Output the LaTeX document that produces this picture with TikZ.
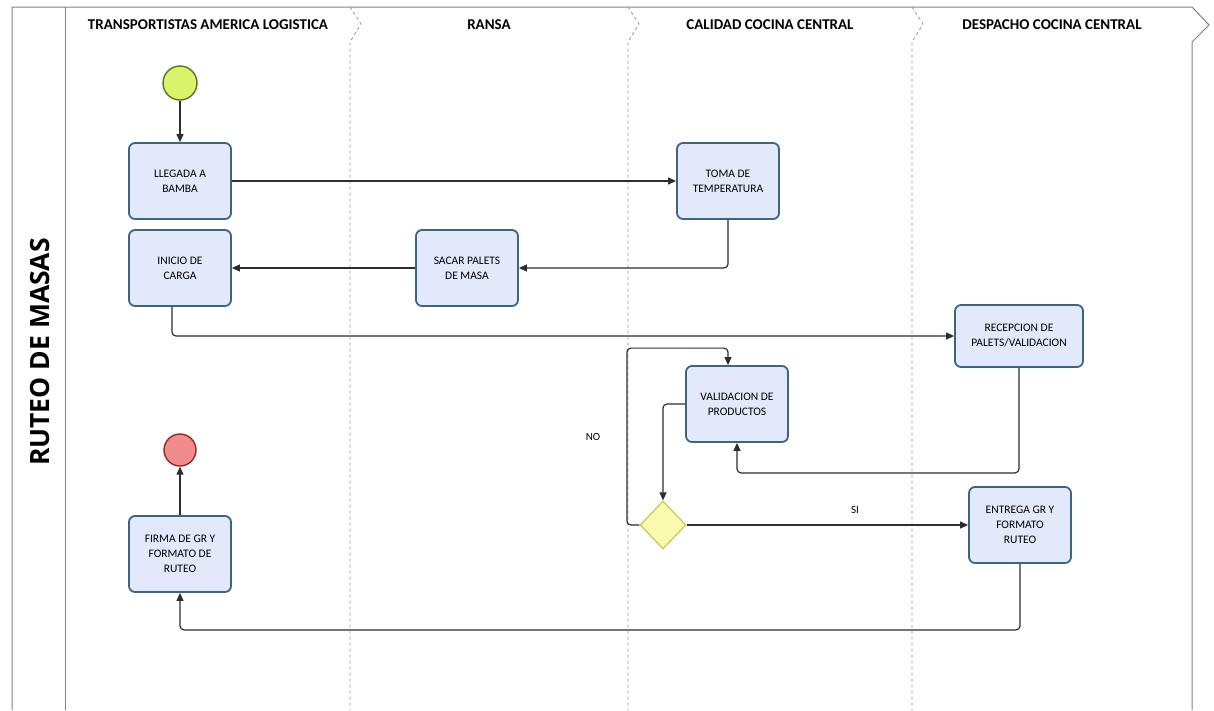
\documentclass[tikz,border=0pt]{standalone}
\usepackage{fontspec}
\setmainfont{Carlito}
\newfontfamily\titlefont{Open Sans}
\usetikzlibrary{arrows.meta, calc, positioning, shapes.geometric}
\definecolor{boxfill}{RGB}{226,233,251}
\definecolor{boxline}{RGB}{62,100,132}
\definecolor{startfill}{RGB}{218,243,104}
\definecolor{startline}{RGB}{84,118,36}
\definecolor{endfill}{RGB}{240,140,140}
\definecolor{endline}{RGB}{150,40,40}
\definecolor{gatefill}{RGB}{251,251,176}
\definecolor{gateline}{RGB}{200,200,80}
\definecolor{flowline}{RGB}{45,45,45}
\definecolor{frameline}{RGB}{130,130,130}
\definecolor{laneline}{RGB}{150,150,150}
\tikzset{
  task/.style={rectangle, rounded corners=6pt, draw=boxline, line width=1.8pt, fill=boxfill,
    minimum width=102pt, minimum height=76pt, align=center, inner sep=2pt,
    font=\fontsize{11.5}{15}\selectfont},
  flow/.style={draw=flowline, line width=1.2pt, rounded corners=4pt,
    -{Triangle[length=8pt,width=7pt]}},
  lanehead/.style={font=\fontsize{15}{17}\selectfont\bfseries},
  lane/.style={draw=laneline, dashed, line width=0.8pt},
  flowlabel/.style={font=\fontsize{11}{13}\selectfont}
}

\begin{document}
\begin{tikzpicture}[x=1pt,y=-1pt]
\useasboundingbox (0,0) rectangle (1214,710);

%----------------------------------------------------------------
% pool and lanes
\draw [frameline, line width=1pt]
(12,710) -- (12,7) -- (1192,7) -- (1209,25) -- (1192,42) -- (1192,710);
\draw [frameline, line width=1pt] (65,7) -- (65,710);
\draw [lane] (350,7) -- (361,24) -- (350,42) -- (350,710);
\draw [lane] (628,7) -- (639,24) -- (628,42) -- (628,710);
\draw [lane] (912,7) -- (923,24) -- (912,42) -- (912,710);

\node(pool) [rotate=90, font=\titlefont\fontsize{26.5}{28}\selectfont\bfseries] at (40,352) {RUTEO DE MASAS};

\node(transport) [lanehead] at (208,25) {TRANSPORTISTAS AMERICA LOGISTICA};
\node(ransa) [lanehead] at (489,25) {RANSA};
\node(calidad) [lanehead] at (770,25) {CALIDAD COCINA CENTRAL};
\node(despacho) [lanehead] at (1052,25) {DESPACHO COCINA CENTRAL};

%----------------------------------------------------------------
% tasks
\node(start) [circle, draw=startline, fill=startfill, line width=1.4pt, minimum size=34pt] at (180,83) {};
\node(llegada) [task] at (180,181) {LLEGADA A\\BAMBA};
\node(carga) [task] at (180,268) {INICIO DE\\CARGA};
\node(sacar) [task] at (467,268) {SACAR PALETS\\DE MASA};
\node(toma) [task] at (728,181) {TOMA DE\\TEMPERATURA};
\node(recepcion) [task, minimum width=128pt, minimum height=62pt] at (1019,336) {RECEPCION DE\\PALETS/VALIDACION};
\node(validacion) [task] at (737,404) {VALIDACION DE\\PRODUCTOS};
\node(gateway) [diamond, draw=gateline, fill=gatefill, line width=1.2pt, minimum width=46pt, minimum height=48pt, inner sep=0pt] at (663,525) {};
\node(entrega) [task] at (1020,525) {ENTREGA GR Y\\FORMATO\\RUTEO};
\node(firma) [task] at (180,554) {FIRMA DE GR Y\\FORMATO DE\\RUTEO};
\node(finish) [circle, draw=endline, fill=endfill, line width=1.4pt, minimum size=32pt] at (180,450) {};

%----------------------------------------------------------------
% sequence flows
\draw [flow] (start) -- (llegada);
\draw [flow] (llegada) -- (toma);
\draw [flow] (toma.south) |- (sacar.east);
\draw [flow] (sacar) -- (carga);
\draw [flow] ($(carga.south)+(-8,0)$) |- (recepcion.west);
\draw [flow] (recepcion.south) -- ++(0,105) -| (validacion.south);
\draw [flow] (validacion.west) -| (gateway.north);
\draw [flow] (gateway.west) -- ++(-12.5,0) |- ($(validacion.north)+(-9,-17)$) -- ($(validacion.north)+(-9,0)$);
\draw [flow] (gateway.east) -- (entrega.west);
\draw [flow] (entrega.south) -- ++(0,66) -| (firma.south);
\draw [flow] (firma) -- (finish);

\node(no) [flowlabel] at (593,437) {NO};
\node(si) [flowlabel] at (855,510) {SI};

\end{tikzpicture}
\end{document}
